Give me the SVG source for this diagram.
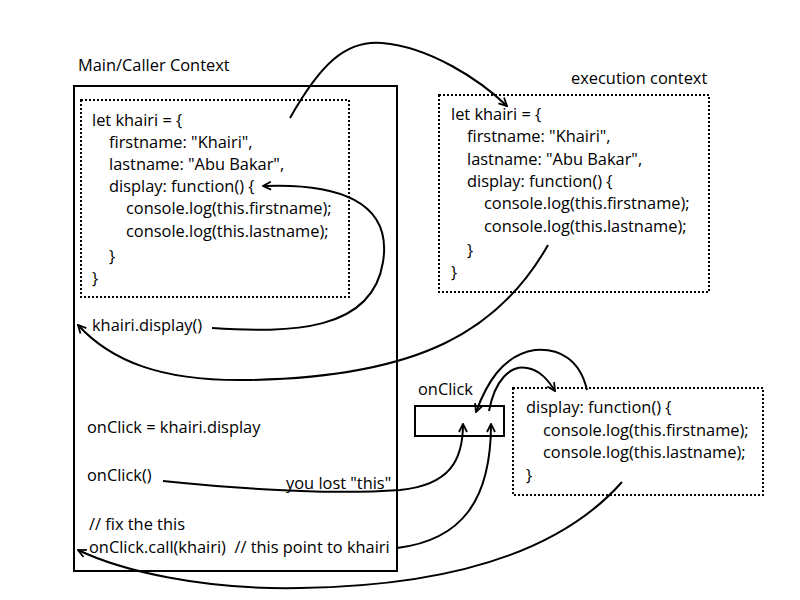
<svg xmlns="http://www.w3.org/2000/svg" width="800" height="600" viewBox="0 0 800 600">
<defs>
<style>
text{font-family:"Open Sans",Lato,"Liberation Sans",sans-serif;font-size:16.4px;fill:#000}
.solid{fill:none;stroke:#000;stroke-width:2}
.dot{fill:none;stroke:#000;stroke-width:2;stroke-dasharray:2 2}
.c{fill:none;stroke:#000;stroke-width:2}
</style>
<marker id="a" viewBox="0 0 10 10" refX="9" refY="5" markerWidth="10" markerHeight="10" markerUnits="userSpaceOnUse" orient="auto">
<polyline points="1,1 9,5 1,9" fill="none" stroke="#000" stroke-width="1.8"/>
</marker>
</defs>
<rect width="800" height="600" fill="#fff"/>
<g id="main">
<text x="78" y="71">Main/Caller Context</text>
<rect class="solid" x="74" y="86" width="323" height="485"/>
</g>
<g id="khairi-obj">
<rect class="dot" x="81" y="100" width="268" height="197"/>
<text x="92" y="126">let khairi = {</text>
<text x="109" y="148">firstname: "Khairi",</text>
<text x="109" y="170">lastname: "Abu Bakar",</text>
<text x="109" y="192">display: function() {</text>
<text x="126" y="214">console.log(this.firstname);</text>
<text x="126" y="237">console.log(this.lastname);</text>
<text x="109" y="262">}</text>
<text x="92" y="284">}</text>
</g>
<g id="exec">
<text x="571" y="84">execution context</text>
<rect class="dot" x="439" y="95" width="270" height="197"/>
<text x="451" y="120">let khairi = {</text>
<text x="467" y="142">firstname: "Khairi",</text>
<text x="467" y="165">lastname: "Abu Bakar",</text>
<text x="467" y="187">display: function() {</text>
<text x="484" y="209">console.log(this.firstname);</text>
<text x="484" y="232">console.log(this.lastname);</text>
<text x="467" y="256">}</text>
<text x="451" y="278">}</text>
</g>
<g id="calls">
<text x="92" y="331">khairi.display()</text>
<text x="87" y="433">onClick = khairi.display</text>
<text x="87" y="481">onClick()</text>
<text x="286" y="489">you lost "this"</text>
<text x="89" y="530">// fix the this</text>
<text x="89" y="553" xml:space="preserve">onClick.call(khairi)  // this point to khairi</text>
</g>
<g id="onclick">
<text x="418" y="395">onClick</text>
<rect class="solid" x="415" y="406" width="89" height="30"/>
</g>
<g id="display-fn">
<rect class="dot" x="513" y="388" width="250" height="107"/>
<text x="526" y="413">display: function() {</text>
<text x="543" y="436">console.log(this.firstname);</text>
<text x="543" y="458">console.log(this.lastname);</text>
<text x="526" y="481">}</text>
</g>
<g id="connectors">
<path class="c" marker-end="url(#a)" d="M290,118 C320,65 345,40 382,43 C430,47 480,80 507,106"/>
<path class="c" marker-end="url(#a)" d="M212,328 C290,333 372,332 383,262 C393,200 335,183 263,186"/>
<path class="c" marker-end="url(#a)" d="M548,245 C500,330 420,377 250,380 C160,382 110,360 78,325"/>
<path class="c" marker-end="url(#a)" d="M163,481 C250,490 330,495 400,490 C450,485 463,460 463,424"/>
<path class="c" marker-end="url(#a)" d="M397,548 C462,540 491,500 491,424"/>
<path class="c" marker-end="url(#a)" d="M622,482 C560,552 450,586 300,588 C200,590 120,570 78,550"/>
<path class="c" marker-end="url(#a)" d="M489,411 C495,380 510,365 527,368 C540,370 548,380 555,391"/>
<path class="c" marker-end="url(#a)" d="M587,390 C580,360 560,348 535,350 C502,355 486,385 476,412"/>
</g>
</svg>
